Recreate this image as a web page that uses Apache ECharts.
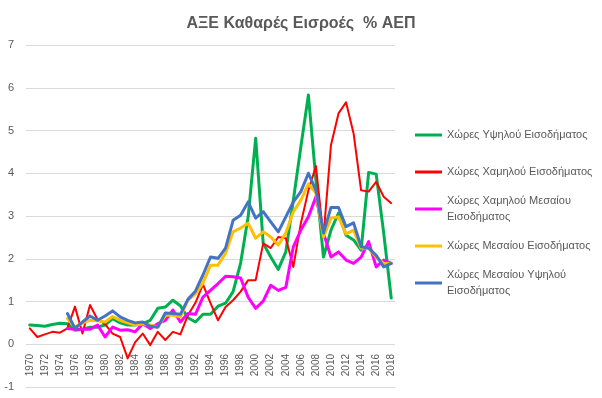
<!DOCTYPE html>
<html>
<head>
<meta charset="utf-8">
<title>ΑΞΕ Καθαρές Εισροές % ΑΕΠ</title>
<script src="https://cdn.jsdelivr.net/npm/echarts@6/dist/echarts.min.js"></script>
<style>
  html, body { margin: 0; padding: 0; background: #fff; }
  #chart { width: 602px; height: 398px; }
</style>
</head>
<body>
<div id="chart"></div>
<script>
var years = []
for (var y = 1970; y <= 2018; y++) years.push(String(y))

var seriesNames = [
  'Χώρες Υψηλού Εισοδήματος',
  'Χώρες Χαμηλού Εισοδήματος',
  'Χώρες Χαμηλού Μεσαίου Εισοδήματος',
  'Χώρες Μεσαίου Εισοδήματος',
  'Χώρες Μεσαίου Υψηλού Εισοδήματος'
]

// 1970 - 2018
var highIncome = [0.45, 0.44, 0.42, 0.46, 0.49, 0.48, 0.33, 0.35, 0.40, 0.40,
  0.45, 0.60, 0.50, 0.45, 0.45, 0.48, 0.56, 0.84, 0.87, 1.03,
  0.90, 0.62, 0.52, 0.70, 0.70, 0.89, 0.96, 1.23, 1.90, 2.98,
  4.82, 2.36, 2.04, 1.75, 2.16, 3.37, 4.62, 5.83, 3.84, 2.04,
  2.67, 3.07, 2.55, 2.44, 2.20, 4.02, 3.98, 2.60, 1.08]

var lowIncome = [0.37, 0.17, 0.23, 0.29, 0.27, 0.37, 0.88, 0.25, 0.92, 0.58,
  0.47, 0.25, 0.17, -0.33, 0.05, 0.25, -0.02, 0.29, 0.10, 0.29,
  0.23, 0.68, 0.97, 1.40, 0.96, 0.56, 0.87, 1.03, 1.23, 1.50,
  1.50, 2.36, 2.25, 2.51, 2.48, 1.81, 2.83, 3.60, 4.17, 2.51,
  4.66, 5.40, 5.66, 4.93, 3.60, 3.57, 3.80, 3.45, 3.30]

var lowerMiddle = [null, null, null, null, null, 0.37, 0.35, 0.35, 0.35, 0.45,
  0.17, 0.40, 0.33, 0.34, 0.29, 0.48, 0.37, 0.48, 0.56, 0.80,
  0.52, 0.72, 0.70, 1.10, 1.26, 1.42, 1.59, 1.58, 1.55, 1.10,
  0.84, 1.01, 1.38, 1.26, 1.33, 2.28, 2.67, 2.98, 3.45, 2.60,
  2.04, 2.16, 1.97, 1.89, 2.04, 2.40, 1.81, 1.97, 1.89]

var middleIncome = [null, null, null, null, null, 0.60, 0.40, 0.50, 0.56, 0.55,
  0.52, 0.65, 0.56, 0.50, 0.45, 0.48, 0.45, 0.40, 0.68, 0.68,
  0.64, 1.03, 1.18, 1.43, 1.85, 1.85, 2.13, 2.63, 2.72, 2.83,
  2.48, 2.63, 2.51, 2.32, 2.60, 3.10, 3.37, 3.75, 3.54, 2.51,
  2.95, 2.98, 2.58, 2.67, 2.25, 2.25, 2.04, 1.89, 1.89]

var upperMiddle = [null, null, null, null, null, 0.72, 0.37, 0.52, 0.66, 0.56,
  0.66, 0.78, 0.64, 0.56, 0.50, 0.52, 0.42, 0.40, 0.73, 0.72,
  0.70, 1.05, 1.24, 1.62, 2.04, 2.01, 2.25, 2.90, 3.02, 3.33,
  2.95, 3.10, 2.86, 2.63, 2.98, 3.33, 3.57, 4.00, 3.60, 2.60,
  3.20, 3.20, 2.75, 2.84, 2.28, 2.25, 2.08, 1.81, 1.89]

var seriesData = [highIncome, lowIncome, lowerMiddle, middleIncome, upperMiddle]
var colors = ['#00B050', '#FF0000', '#FF00FF', '#FFC000', '#4472C4']
var widths = [3, 2, 3, 3, 3]

// two line legend entries in the reference
var legendLabels = [
  'Χώρες Υψηλού Εισοδήματος',
  'Χώρες Χαμηλού Εισοδήματος',
  'Χώρες Χαμηλού Μεσαίου\nΕισοδήματος',
  'Χώρες Μεσαίου Εισοδήματος',
  'Χώρες Μεσαίου Υψηλού\nΕισοδήματος'
]
var legendCenters = [135, 172, 209, 246, 283]

var font = 'Liberation Sans'
var textColor = '#595959'

var chart = echarts.init(document.getElementById('chart'))

var series = seriesData.map(function (d, i) {
  return {
    name: seriesNames[i],
    type: 'line',
    data: d,
    symbol: 'none',
    connectNulls: false,
    animation: false,
    lineStyle: { color: colors[i], width: widths[i], join: 'round', cap: 'round' },
    itemStyle: { color: colors[i] }
  }
})

var legends = seriesNames.map(function (name, i) {
  var twoLines = legendLabels[i].indexOf('\n') >= 0
  return {
    orient: 'vertical',
    left: 415,
    top: twoLines ? legendCenters[i] - 24 : legendCenters[i] - 8,
    padding: 0,
    itemWidth: 27,
    itemHeight: 3,
    itemGap: 0,
    icon: 'rect',
    selectedMode: false,
    data: [name],
    formatter: function () { return legendLabels[i] },
    textStyle: {
      fontFamily: font,
      fontSize: 11,
      color: textColor,
      lineHeight: 16,
      padding: twoLines ? [16, 0, 0, 0] : 0
    }
  }
})

var option = {
  backgroundColor: '#fff',
  animation: false,
  title: {
    text: 'ΑΞΕ Καθαρές Εισροές  % ΑΕΠ',
    left: 'center',
    top: 11,
    textStyle: { fontFamily: font, fontSize: 16, fontWeight: 'bold', color: textColor }
  },
  legend: legends,
  grid: { left: 26, right: 207, top: 45, bottom: 11, outerBoundsMode: 'none' },
  xAxis: {
    type: 'category',
    data: years,
    boundaryGap: true,
    // labels sit just under the 0 line, like the excel original
    axisLine: { onZero: false, lineStyle: { color: '#D9D9D9' } },
    axisTick: { show: false },
    axisLabel: {
      interval: 1,
      rotate: 90,
      margin: -33,
      fontFamily: font,
      fontSize: 10,
      color: textColor
    }
  },
  yAxis: {
    type: 'value',
    min: -1,
    max: 7,
    interval: 1,
    axisLine: { show: false },
    axisTick: { show: false },
    splitLine: { lineStyle: { color: '#D9D9D9' } },
    axisLabel: { margin: 12, fontFamily: font, fontSize: 11, color: textColor }
  },
  series: series
}

chart.setOption(option)
</script>
</body>
</html>
